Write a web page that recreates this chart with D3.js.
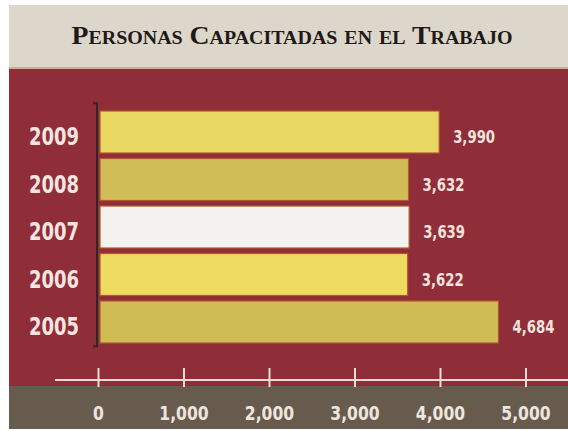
<!DOCTYPE html>
<html>
<head>
<meta charset="utf-8">
<script src="https://cdn.jsdelivr.net/npm/d3@7"></script>
<style>
  body { margin: 0; background: #fff; }
  svg { display: block; }
</style>
</head>
<body>
<div id="chart"></div>
<script>
var years = ["2009", "2008", "2007", "2006", "2005"];
var values = [3990, 3632, 3639, 3622, 4684];
var valueLabels = ["3,990", "3,632", "3,639", "3,622", "4,684"];
var tickValues = [0, 1000, 2000, 3000, 4000, 5000];
var tickLabels = ["0", "1,000", "2,000", "3,000", "4,000", "5,000"];
var title = "Personas Capacitadas en el Trabajo";

var width = 568,
    height = 431;

var barColor = d3.scaleOrdinal()
    .domain(years)
    .range(["#e9d862", "#d1bd57", "#f3f2ee", "#ecdb5f", "#d0bc54"]);

var svg = d3.select("#chart").append("svg")
    .attr("width", width)
    .attr("height", height);

// squeeze text horizontally, the original uses a condensed face
function condense(sel, k) {
    sel.each(function () {
        var w = this.getComputedTextLength();
        d3.select(this)
            .attr("textLength", w * k)
            .attr("lengthAdjust", "spacingAndGlyphs");
    });
}

// background bands
svg.append("rect").attr("x", 9).attr("y", 5).attr("width", width - 9).attr("height", 63).attr("fill", "#ddd6cb");
svg.append("rect").attr("x", 9).attr("y", 67).attr("width", width - 9).attr("height", 2).attr("fill", "#d9a595");
svg.append("rect").attr("x", 9).attr("y", 69).attr("width", width - 9).attr("height", 317).attr("fill", "#8f2d38");
svg.append("rect").attr("x", 9).attr("y", 386).attr("width", width - 9).attr("height", 43).attr("fill", "#675b4e");

// title
svg.append("text")
    .attr("x", 292)
    .attr("y", 44)
    .attr("text-anchor", "middle")
    .attr("textLength", 441)
    .attr("lengthAdjust", "spacingAndGlyphs")
    .style("font-family", "'Liberation Serif', 'DejaVu Serif', serif")
    .style("font-variant", "small-caps")
    .style("font-size", "25px")
    .style("font-weight", "bold")
    .style("fill", "#1e1a17")
    .text(title);

var x = d3.scaleLinear()
    .domain([0, 5000])
    .range([98, 525.5]);

var y = d3.scaleBand()
    .domain(years)
    .range([108.25, 345.75])
    .paddingInner(0.116)
    .paddingOuter(0.058);

// bars
svg.selectAll(".bar")
    .data(years)
    .enter().append("rect")
    .attr("class", "bar")
    .attr("x", x(0) + 2)
    .attr("y", function (d) { return y(d); })
    .attr("width", function (d, i) { return x(values[i]) - x(0) - 2; })
    .attr("height", y.bandwidth())
    .attr("fill", function (d) { return barColor(d); })
    .attr("stroke", "#b0582f")
    .attr("stroke-width", 1.2);

// bracket on the left of the bars
var bTop = y.range()[0] - 5,
    bBot = y.range()[1] + 0.5;
svg.append("path")
    .attr("d", "M93," + bTop + "H97V" + bBot + "H93")
    .attr("fill", "none")
    .attr("stroke", "#2f2726")
    .attr("stroke-width", 2);

// year labels
svg.selectAll(".year")
    .data(years)
    .enter().append("text")
    .attr("class", "year")
    .attr("x", 54)
    .attr("y", function (d) { return y(d) + y.bandwidth() / 2 + 13; })
    .attr("text-anchor", "middle")
    .style("font-family", "'DejaVu Sans', sans-serif")
    .style("font-weight", "bold")
    .style("font-size", "25px")
    .style("fill", "#f6e5e0")
    .text(function (d) { return d; })
    .call(condense, 0.72);

// value labels
svg.selectAll(".value")
    .data(years)
    .enter().append("text")
    .attr("class", "value")
    .attr("x", function (d, i) { return x(values[i]) + 14; })
    .attr("y", function (d) { return y(d) + y.bandwidth() / 2 + 11; })
    .style("font-family", "'DejaVu Sans', sans-serif")
    .style("font-weight", "bold")
    .style("font-size", "17px")
    .style("fill", "#f4e3de")
    .text(function (d, i) { return valueLabels[i]; })
    .call(condense, 0.78);

// x axis
svg.append("line")
    .attr("x1", 55).attr("x2", width)
    .attr("y1", 380).attr("y2", 380)
    .attr("stroke", "#f1dcd6")
    .attr("stroke-width", 2);

var xAxis = d3.axisBottom(x)
    .tickValues(tickValues)
    .tickFormat(function (d, i) { return tickLabels[i]; })
    .tickSizeInner(-19)
    .tickSizeOuter(0)
    .tickPadding(20);

var gx = svg.append("g")
    .attr("transform", "translate(0,387)")
    .call(xAxis);

gx.select(".domain").remove();
gx.selectAll(".tick line")
    .attr("stroke", "#f1dcd6")
    .attr("stroke-width", 2);
gx.selectAll(".tick text")
    .style("font-family", "'DejaVu Sans', sans-serif")
    .style("font-weight", "bold")
    .style("font-size", "19px")
    .style("fill", "#eee6de")
    .call(condense, 0.82);
</script>
</body>
</html>
